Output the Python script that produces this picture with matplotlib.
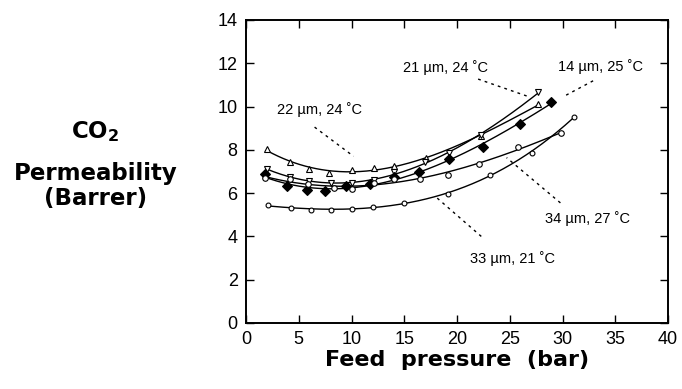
"""
CO2 permeability vs feed pressure for five membranes.
Open/filled markers with cubic trend curves, dotted leader labels.
"""

import numpy as np
import matplotlib
matplotlib.use('Agg')
import matplotlib.pyplot as plt

plt.rcParams['font.family'] = ['Liberation Sans', 'DejaVu Sans']

# data: feed pressure (bar), permeability (Barrer)
p22 = [2.0, 4.2, 6.0, 7.9, 10.0, 12.1, 14.0, 17.1, 22.3, 27.7]
k22 = [8.02, 7.45, 7.13, 6.94, 7.05, 7.14, 7.25, 7.63, 8.64, 10.1]

p21 = [2.0, 4.2, 6.0, 8.1, 10.0, 12.1, 14.0, 17.0, 19.2, 22.3, 27.7]
k21 = [7.12, 6.75, 6.55, 6.45, 6.45, 6.6, 6.97, 7.43, 7.85, 8.7, 10.65]

p14 = [1.8, 3.9, 5.75, 7.5, 9.5, 11.75, 14.0, 16.4, 19.2, 22.5, 26.0, 28.9]
k14 = [6.9, 6.32, 6.13, 6.09, 6.32, 6.4, 6.75, 6.97, 7.56, 8.15, 9.21, 10.21]

p34 = [1.8, 4.2, 5.9, 8.3, 10.0, 12.1, 14.0, 16.5, 19.1, 22.1, 25.8, 29.9]
k34 = [6.7, 6.66, 6.4, 6.24, 6.2, 6.48, 6.63, 6.63, 6.86, 7.36, 8.14, 8.76]

p33 = [2.05, 4.27, 6.13, 8.1, 10.0, 12.0, 15.0, 19.1, 23.1, 27.1, 31.1]
k33 = [5.44, 5.32, 5.24, 5.21, 5.27, 5.38, 5.56, 5.96, 6.86, 7.87, 9.54]

series = [
    (p22, k22, '^', 'white', 4.0),
    (p21, k21, 'v', 'white', 4.0),
    (p14, k14, 'D', 'black', 5.0),
    (p34, k34, 'o', 'white', 4.0),
    (p33, k33, 'o', 'white', 3.5),
]

# label text, text position, leader start, leader end
labels = [
    ("22 \u00b5m, 24 \u02daC", (7.0, 9.85), (6.5, 9.05), (10.2, 7.7)),
    ("21 \u00b5m, 24 \u02daC", (18.9, 11.8), (22.0, 11.27), (26.6, 10.49)),
    ("14 \u00b5m, 25 \u02daC", (33.6, 11.85), (32.9, 11.19), (30.2, 10.49)),
    ("34 \u00b5m, 27 \u02daC", (32.4, 4.85), (29.8, 5.55), (24.7, 7.64)),
    ("33 \u00b5m, 21 \u02daC", (25.3, 3.0), (22.3, 4.0), (18.1, 5.78)),
]

fig = plt.figure(figsize=(6.82, 3.89), dpi=100)
ax = fig.add_axes([0.3607, 0.1697, 0.6188, 0.7789])

for p, k, m, fc, ms in series:
    p = np.array(p)
    k = np.array(k)
    coef = np.polyfit(p, k, 3)
    xs = np.linspace(p.min(), p.max(), 200)
    ax.plot(xs, np.polyval(coef, xs), color='black', lw=1.0)
    ax.plot(p, k, linestyle='none', marker=m, markersize=ms,
            markerfacecolor=fc, markeredgecolor='black', markeredgewidth=0.8)

for txt, tpos, a, b in labels:
    ax.text(tpos[0], tpos[1], txt, ha='center', va='center', fontsize=10.5)
    ax.plot([a[0], b[0]], [a[1], b[1]], color='black', lw=1.0,
            linestyle=(0, (2, 3)))

ax.set_xlim(0, 40)
ax.set_ylim(0, 14)
ax.set_xticks(range(0, 41, 5))
ax.set_yticks(range(0, 15, 2))
ax.tick_params(direction='in', length=6, width=1, labelsize=13,
               top=True, right=True, pad=6)
for s in ax.spines.values():
    s.set_linewidth(1.4)

bold = dict(family='DejaVu Sans', fontweight='bold')
ax.set_xlabel("Feed  pressure  (bar)", fontsize=16, labelpad=1, **bold)

fig.text(0.14, 0.662, "CO$_\\mathbf{2}$", ha='center', va='center',
         fontsize=16.5, **bold)
fig.text(0.14, 0.553, "Permeability", ha='center', va='center',
         fontsize=16.5, **bold)
fig.text(0.14, 0.49, "(Barrer)", ha='center', va='center',
         fontsize=16.5, **bold)

plt.savefig('out.png', dpi=100)
